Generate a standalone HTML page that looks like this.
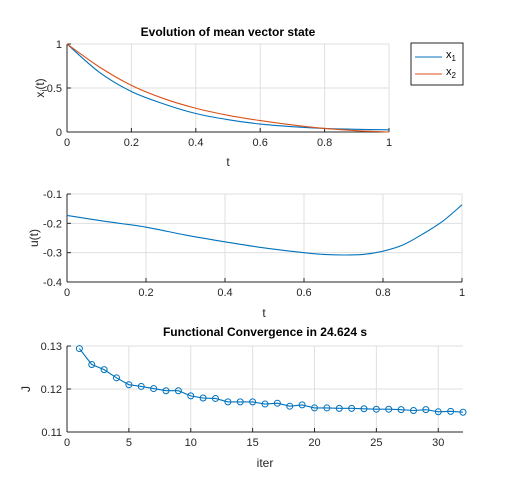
<!DOCTYPE html>
<html><head><meta charset="utf-8"><style>
html,body{margin:0;padding:0;background:#fff}
svg{display:block;font-family:"Liberation Sans",sans-serif}
</style></head><body>
<svg id="fig" width="512" height="500" viewBox="0 0 512 500">
<rect width="512" height="500" fill="#fff"/>
<g id="g1"></g>
<g id="g2"></g>
<g id="g3"></g>
</svg>
<script>
const tSamples=[0,0.1,0.2,0.3,0.4,0.5,0.6,0.7,0.8,0.9,1];
const x1Values=[1,0.68,0.46,0.32,0.21,0.14,0.09,0.06,0.04,0.03,0.025];
const x2Values=[1,0.74,0.53,0.38,0.27,0.19,0.13,0.08,0.04,0.015,0.0];
const uT=[0,0.1,0.2,0.3,0.4,0.5,0.6,0.65,0.7,0.75,0.8,0.85,0.9,0.95,1];
const uValues=[-0.173,-0.194,-0.213,-0.24,-0.263,-0.284,-0.300,-0.306,-0.308,-0.306,-0.295,-0.274,-0.237,-0.194,-0.137];
const iters=[1,2,3,4,5,6,7,8,9,10,11,12,13,14,15,16,17,18,19,20,21,22,23,24,25,26,27,28,29,30,31,32];
const jValues=[0.1294,0.1257,0.1245,0.1226,0.1210,0.1206,0.1201,0.1196,0.1196,0.1184,0.1179,0.1178,0.1170,0.1170,0.1170,0.1165,0.1167,0.1160,0.1163,0.1156,0.1156,0.1155,0.1155,0.1154,0.1153,0.1153,0.1152,0.1150,0.1152,0.1147,0.1148,0.1146];
const tTicks=[0,0.2,0.4,0.6,0.8,1];
const tTickLabels=["0","0.2","0.4","0.6","0.8","1"];
const xyTicks=[0,0.5,1];
const xyTickLabels=["0","0.5","1"];
const uTicks=[-0.4,-0.3,-0.2,-0.1];
const uTickLabels=["-0.4","-0.3","-0.2","-0.1"];
const iterTicks=[0,5,10,15,20,25,30];
const iterTickLabels=["0","5","10","15","20","25","30"];
const jTicks=[0.11,0.12,0.13];
const jTickLabels=["0.11","0.12","0.13"];

const NS="http://www.w3.org/2000/svg";
function mk(parent,tag,attrs,text){const e=document.createElementNS(NS,tag);for(const k in attrs)e.setAttribute(k,attrs[k]);if(text!==undefined)e.textContent=text;parent.appendChild(e);return e;}
function axes(g,box,xd,yd,xt,xtl,yt,ytl,name){
  const sx=v=>box.x0+(v-xd[0])/(xd[1]-xd[0])*(box.x1-box.x0);
  const sy=v=>box.y1-(v-yd[0])/(yd[1]-yd[0])*(box.y1-box.y0);
  mk(g,'rect',{x:box.x0,y:box.y0,width:box.x1-box.x0,height:box.y1-box.y0,fill:'#fff'});
  xt.forEach((v,i)=>{const x=sx(v);
    const l=mk(g,'line',{x1:x,x2:x,y1:box.y0,y2:box.y1,stroke:'#dfdfdf','stroke-width':1});
    
    
    mk(g,'line',{x1:x,x2:x,y1:box.y1,y2:box.y1-4,stroke:'#262626'});
    const t=mk(g,'text',{x:x,y:box.y1+14,'font-size':11,'text-anchor':'middle',fill:'#262626'},xtl[i]);
    
    
  });
  yt.forEach((v,i)=>{const y=sy(v);
    const l=mk(g,'line',{x1:box.x0,x2:box.x1,y1:y,y2:y,stroke:'#dfdfdf','stroke-width':1});
    
    
    mk(g,'line',{x1:box.x0,x2:box.x0+4,y1:y,y2:y,stroke:'#262626'});
    const t=mk(g,'text',{x:box.x0-5,y:y+4,'font-size':11,'text-anchor':'end',fill:'#262626'},ytl[i]);
    
    
  });
  mk(g,'line',{x1:box.x0,x2:box.x1,y1:box.y1,y2:box.y1,stroke:'#262626'});
  mk(g,'line',{x1:box.x0,x2:box.x0,y1:box.y0,y2:box.y1,stroke:'#262626'});
  return {sx,sy};
}
function line(g,xs,ys,s,color,name,smooth){
  const P=xs.map((x,i)=>[s.sx(x),s.sy(ys[i])]);
  let d='M'+P[0][0].toFixed(2)+','+P[0][1].toFixed(2);
  for(let i=0;i<P.length-1;i++){
    if(!smooth){d+='L'+P[i+1][0].toFixed(2)+','+P[i+1][1].toFixed(2);continue;}
    const p0=P[Math.max(0,i-1)],p1=P[i],p2=P[i+1],p3=P[Math.min(P.length-1,i+2)];
    const c1=[p1[0]+(p2[0]-p0[0])/6,p1[1]+(p2[1]-p0[1])/6];
    const c2=[p2[0]-(p3[0]-p1[0])/6,p2[1]-(p3[1]-p1[1])/6];
    d+='C'+c1[0].toFixed(2)+','+c1[1].toFixed(2)+' '+c2[0].toFixed(2)+','+c2[1].toFixed(2)+' '+p2[0].toFixed(2)+','+p2[1].toFixed(2);
  }
  const p=mk(g,'path',{d:d,fill:'none',stroke:color,'stroke-width':1.1});
  
  
  return p;
}
// plot 1
const g1=document.getElementById('g1');
const b1={x0:67,x1:389,y0:44,y1:132};
const s1=axes(g1,b1,[0,1],[0,1],tTicks,tTickLabels,xyTicks,xyTickLabels,'state');
line(g1,tSamples,x1Values,s1,'#0072bd','x1-line',true);
line(g1,tSamples,x2Values,s1,'#d95319','x2-line',true);
let e;
e=mk(g1,'text',{x:228,y:36,'font-size':12,'font-weight':'bold','text-anchor':'middle',fill:'#000'},'Evolution of mean vector state');


e=mk(g1,'text',{x:228,y:166,'font-size':12,'text-anchor':'middle',fill:'#262626'},'t');


e=mk(g1,'text',{x:0,y:0,'font-size':12,'text-anchor':'middle',fill:'#262626',transform:'translate(44,88) rotate(-90)'});
e.innerHTML='x<tspan font-size="9" dy="3">i</tspan><tspan dy="-3">(t)</tspan>';


// legend
const lg=mk(g1,'g',{});


mk(lg,'rect',{x:411,y:43,width:52,height:42,fill:'#fff',stroke:'#262626','stroke-width':1});
mk(lg,'line',{x1:415,x2:442,y1:57,y2:57,stroke:'#0072bd','stroke-width':1.1});
mk(lg,'line',{x1:415,x2:442,y1:74,y2:74,stroke:'#d95319','stroke-width':1.1});
e=mk(lg,'text',{x:446,y:58,'font-size':11,fill:'#000'});e.innerHTML='x<tspan font-size="8" dy="3">1</tspan>';


e=mk(lg,'text',{x:446,y:75,'font-size':11,fill:'#000'});e.innerHTML='x<tspan font-size="8" dy="3">2</tspan>';


// plot 2
const g2=document.getElementById('g2');
const b2={x0:67,x1:462,y0:194,y1:282};
const s2=axes(g2,b2,[0,1],[-0.4,-0.1],tTicks,tTickLabels,uTicks,uTickLabels,'control');
line(g2,uT,uValues,s2,'#0072bd','u-line',true);
e=mk(g2,'text',{x:264,y:317,'font-size':12,'text-anchor':'middle',fill:'#262626'},'t');


e=mk(g2,'text',{x:0,y:0,'font-size':12,'text-anchor':'middle',fill:'#262626',transform:'translate(38,238) rotate(-90)'},'u(t)');


// plot 3
const g3=document.getElementById('g3');
const b3={x0:67,x1:463,y0:346,y1:432};
const s3=axes(g3,b3,[0,32],[0.11,0.13],iterTicks,iterTickLabels,jTicks,jTickLabels,'convergence');
line(g3,iters,jValues,s3,'#0072bd','j-line',false);
iters.forEach((x,i)=>{const c=mk(g3,'circle',{cx:s3.sx(x),cy:s3.sy(jValues[i]),r:3,fill:'none',stroke:'#0072bd','stroke-width':1});
  
  });
e=mk(g3,'text',{x:265,y:336,'font-size':12,'font-weight':'bold','text-anchor':'middle',fill:'#000'},'Functional Convergence in 24.624 s');


e=mk(g3,'text',{x:265,y:467,'font-size':12,'text-anchor':'middle',fill:'#262626'},'iter');


e=mk(g3,'text',{x:0,y:0,'font-size':12,'text-anchor':'middle',fill:'#262626',transform:'translate(30,389) rotate(-90)'},'J');


</script>
</body></html>
